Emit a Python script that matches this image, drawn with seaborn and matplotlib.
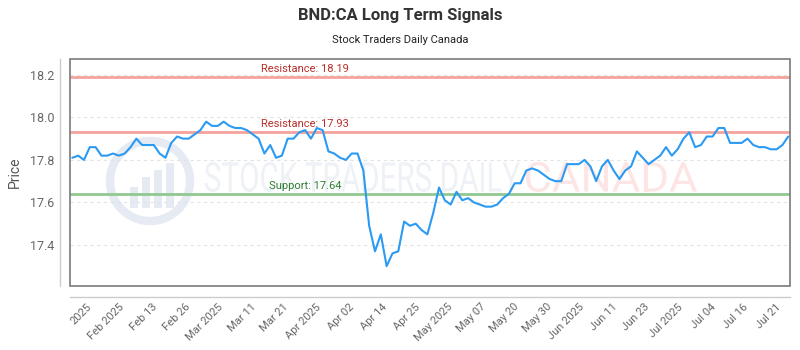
import numpy as np
import matplotlib
matplotlib.use("Agg")
import matplotlib.pyplot as plt
import matplotlib.patches as mpatches
from matplotlib.textpath import TextPath
from matplotlib.font_manager import FontProperties
from matplotlib.transforms import Affine2D, IdentityTransform
import seaborn as sns

# daily closing prices (trading days, evenly spaced on the axis)
prices = [
    17.81, 17.82, 17.80, 17.86, 17.86, 17.82, 17.82, 17.83, 17.82, 17.83,
    17.86, 17.90, 17.87, 17.87, 17.87, 17.83, 17.81, 17.88, 17.91, 17.90,
    17.90, 17.92, 17.94, 17.98, 17.96, 17.96, 17.98, 17.96, 17.95, 17.95,
    17.94, 17.92, 17.90, 17.83, 17.87, 17.81, 17.82, 17.90, 17.90, 17.93,
    17.94, 17.90, 17.95, 17.94, 17.84, 17.83, 17.81, 17.80, 17.83, 17.83,
    17.75, 17.49, 17.37, 17.45, 17.30, 17.36, 17.37, 17.51, 17.49, 17.50,
    17.47, 17.45, 17.55, 17.67, 17.61, 17.59, 17.65, 17.61, 17.62, 17.60,
    17.59, 17.58, 17.58, 17.59, 17.62, 17.64, 17.69, 17.69, 17.75, 17.76,
    17.75, 17.73, 17.71, 17.70, 17.70, 17.78, 17.78, 17.78, 17.80, 17.77,
    17.70, 17.77, 17.80, 17.75, 17.71, 17.75, 17.77, 17.84, 17.81, 17.78,
    17.80, 17.82, 17.86, 17.82, 17.85, 17.90, 17.93, 17.86, 17.87, 17.91,
    17.91, 17.95, 17.95, 17.88, 17.88, 17.88, 17.90, 17.87, 17.86, 17.86,
    17.85, 17.85, 17.87, 17.91,
]

tick_labels = ['2025', 'Feb 2025', 'Feb 13', 'Feb 26', 'Mar 2025', 'Mar 11',
               'Mar 21', 'Apr 2025', 'Apr 02', 'Apr 14', 'Apr 25', 'May 2025',
               'May 07', 'May 20', 'May 30', 'Jun 2025', 'Jun 11', 'Jun 23',
               'Jul 2025', 'Jul 04', 'Jul 16', 'Jul 21']

resistance_levels = [18.19, 17.93]
support_levels = [17.64]
y_ticks = [17.4, 17.6, 17.8, 18.0, 18.2]

sns.set_style("white")
plt.rcParams['font.family'] = ['Roboto', 'DejaVu Sans']

fig = plt.figure(figsize=(8, 3.5), dpi=100)
ax = fig.add_axes([0.0875, 0.183, 0.9, 0.648])

idx = np.arange(len(prices))


def watermark_text(s, x0, x1, y0, y1, color):
    """Stretch a text path into a pixel box (x0..x1, y0..y1 from bottom-left)"""
    tp = TextPath((0, 0), s, size=1, prop=FontProperties(family='Roboto'))
    ext = tp.get_extents()
    trf = (Affine2D().translate(-ext.x0, -ext.y0)
           .scale((x1 - x0) / ext.width, (y1 - y0) / ext.height)
           .translate(x0, y0))
    patch = mpatches.PathPatch(trf.transform_path(tp), facecolor=color,
                               edgecolor='none', transform=IdentityTransform(), zorder=0.5)
    ax.add_artist(patch)


# watermark
wm_col = '#e6eaf2'
ax.add_patch(mpatches.Ellipse((0.1875, 0.483), 0.1, 0.229, transform=fig.transFigure,
                              fill=False, edgecolor=wm_col, linewidth=6, zorder=0.5))
for bx, bh in zip([0.162, 0.177, 0.192, 0.207], [0.06, 0.09, 0.11, 0.13]):
    ax.add_patch(mpatches.Rectangle((bx, 0.405), 0.011, bh, transform=fig.transFigure,
                                    facecolor=wm_col, edgecolor='none', zorder=0.5))
watermark_text('STOCK TRADERS DAILY', 205, 520, 158, 188, '#eef1f6')
watermark_text('CANADA', 526, 697, 158, 188, '#fde5e5')

# grid
for yt in y_ticks:
    ax.axhline(yt, color='#e3e3e3', linestyle=(0, (3, 3)), linewidth=0.8, zorder=1)

# support / resistance
label_x = 40
for lvl in resistance_levels:
    ax.axhline(lvl, color='#f4a29c', linewidth=2, zorder=2)
    ax.annotate(f'Resistance: {lvl:.2f}', (label_x, lvl), xytext=(0, 2),
                textcoords='offset points', ha='center', va='bottom',
                color='#b8302c', fontsize=8)
for lvl in support_levels:
    ax.axhline(lvl, color='#8fc98f', linewidth=2, zorder=2)
    ax.annotate(f'Support: {lvl:.2f}', (label_x, lvl), xytext=(0, 2),
                textcoords='offset points', ha='center', va='bottom',
                color='#2e7d32', fontsize=8)

sns.lineplot(x=idx, y=prices, ax=ax, color='#2b9af3', linewidth=1.5, zorder=3)

ax.set_xlim(-0.4, len(prices) - 0.7)
ax.set_ylim(17.207, 18.274)

ax.tick_params(axis='both', length=0, labelcolor='#666666')
ax.tick_params(axis='x', pad=6, labelsize=8)
ax.tick_params(axis='y', pad=4, labelsize=9)

tick_pos = np.linspace(3.0, 121.5, len(tick_labels))
ax.set_xticks(tick_pos)
ax.set_xticklabels(tick_labels)
ax.set_yticks(y_ticks)
ax.set_yticklabels([f'{v:.1f}' for v in y_ticks])

ax.set_ylabel('Price', fontsize=10, color='#555555', labelpad=6)
ax.set_xlabel('')

# offset light axis lines plus a dark frame around the plot
for side in ['top', 'right']:
    ax.spines[side].set_visible(False)
ax.spines['left'].set_position(('outward', 7.2))
ax.spines['bottom'].set_position(('outward', 7.9))
for side in ['left', 'bottom']:
    ax.spines[side].set_color('#cccccc')
    ax.spines[side].set_linewidth(1)
ax.add_patch(mpatches.Rectangle((0, 0), 1, 1, transform=ax.transAxes, fill=False,
                                edgecolor='#7a7a7a', linewidth=1.2, zorder=5, clip_on=False))

fig.text(0.5, 0.955, 'BND:CA Long Term Signals', ha='center', va='center',
         fontsize=12, fontweight='bold', color='#333333')
fig.text(0.5, 0.885, 'Stock Traders Daily Canada', ha='center', va='center',
         fontsize=8, color='#222222')

# rotate date labels once all ticks exist
fig.canvas.draw()
for lab in ax.get_xticklabels():
    lab.set_rotation(45)
    lab.set_horizontalalignment('right')
    lab.set_verticalalignment('center')
    lab.set_rotation_mode('anchor')

fig.savefig('out.png', dpi=100)
